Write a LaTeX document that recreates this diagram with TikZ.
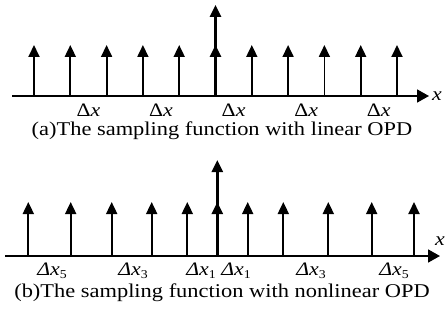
\documentclass[tikz,border=0pt]{standalone}
\usepackage{fontspec}
\setmainfont{Liberation Serif}
\usetikzlibrary{arrows.meta}
\tikzset{
  stem/.style={line width=1.8pt,-{Triangle[width=11pt,length=12pt]}},
  bigstem/.style={line width=2.6pt,-{Triangle[width=11pt,length=12pt]}},
  axis/.style={line width=1.8pt,-{Triangle[width=13pt,length=12pt]}},
  lbl/.style={inner sep=0pt,font=\fontsize{19}{19}\selectfont},
  captxt/.style={inner sep=0pt,font=\fontsize{19.5}{20}\selectfont},
}
\newcommand{\wide}[1]{\scalebox{1.15}[1]{#1}}
\newcommand{\dxi}[1]{\wide{\itshape Δx\raisebox{-0.3ex}{\fontsize{12}{12}\selectfont\upshape #1}}}
\begin{document}
\begin{tikzpicture}[x=1pt,y=-1pt]
\useasboundingbox (0,0) rectangle (445,321);
% ---------- top panel ----------
\coordinate (ta0) at (12,96);
\coordinate (ta1) at (429,96);
\draw[axis] (ta0) -- (ta1);
\node[lbl,anchor=west] (tx) at (432,96) {\wide{\itshape x}};
\foreach \x in {34,70.3,106.6,142.9,179.2,251.8,288.1,324.4,360.7,397}
  \draw[stem] (\x,96) -- (\x,45);
\draw[bigstem] (215.5,96) -- (215.5,45);
\draw[bigstem] (215.5,96) -- (215.5,5);
\foreach \x/\n in {88.5/t1,161/t2,233.6/t3,306.2/t4,378.8/t5}
  \node[lbl] (\n) at (\x,110) {\wide{Δ\textit{x}}};
\node[captxt] (capa) at (222,131) {\wide{(a)The sampling function with linear OPD}};
% ---------- bottom panel ----------
\coordinate (ba0) at (5,256);
\coordinate (ba1) at (440,256);
\draw[axis] (ba0) -- (ba1);
\node[lbl,anchor=east] (bx) at (445,241) {\wide{\itshape x}};
\foreach \x in {28.3,70.7,111.7,151.7,187.3,247.7,283.3,328.3,371.7,414}
  \draw[stem] (\x,256) -- (\x,202);
\draw[bigstem] (217.3,256) -- (217.3,202);
\draw[bigstem] (217.3,256) -- (217.3,160);
\node[lbl] (b1) at (52,271) {\dxi{5}};
\node[lbl] (b2) at (133,271) {\dxi{3}};
\node[lbl] (b3) at (201,271) {\dxi{1}};
\node[lbl] (b4) at (236,271) {\dxi{1}};
\node[lbl] (b5) at (311,271) {\dxi{3}};
\node[lbl] (b6) at (394,271) {\dxi{5}};
\node[captxt] (capb) at (222,293) {\wide{(b)The sampling function with nonlinear OPD}};
\end{tikzpicture}
\end{document}
